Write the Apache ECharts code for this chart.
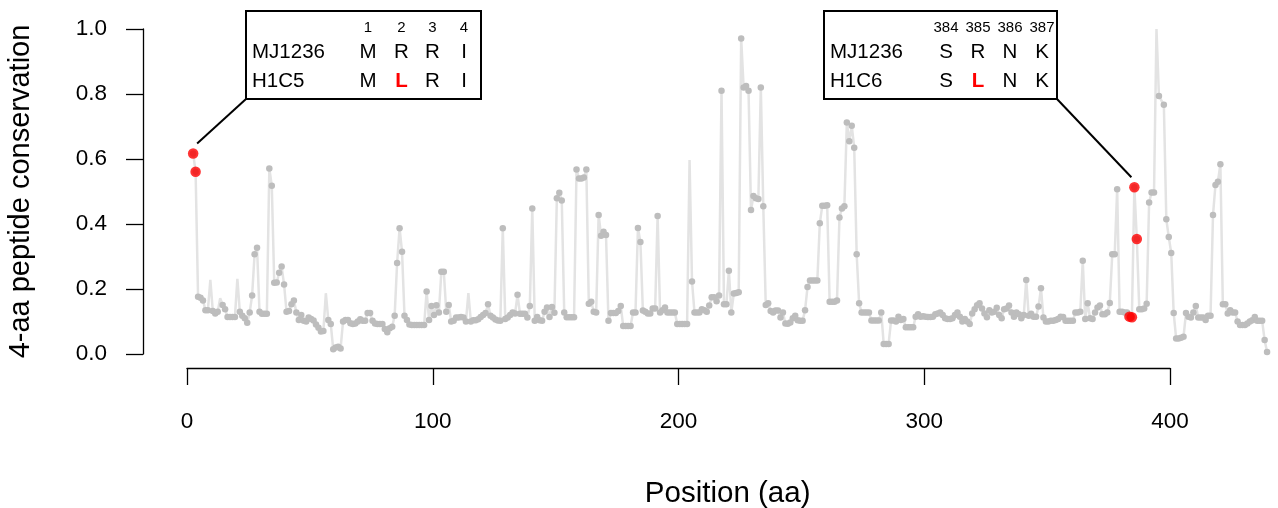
<!DOCTYPE html>
<html>
<head>
<meta charset="utf-8">
<script src="https://cdn.jsdelivr.net/npm/echarts@6/dist/echarts.min.js"></script>
<style>
  html, body { margin: 0; padding: 0; background: #ffffff; }
  #chart { width: 1278px; height: 508px; }
</style>
</head>
<body>
<div id="chart"></div>
<script>
// 4-aa peptide conservation, one value per window start (1..438)
const conservation = [
  0.617, 0.561, 0.176, 0.173, 0.165, 0.135, 0.135, 0.228, 0.132, 0.125,
  0.130, 0.172, 0.151, 0.138, 0.114, 0.114, 0.114, 0.114, 0.231, 0.130,
  0.118, 0.110, 0.096, 0.128, 0.180, 0.307, 0.327, 0.130, 0.124, 0.124,
  0.124, 0.571, 0.518, 0.219, 0.220, 0.250, 0.269, 0.214, 0.130, 0.132,
  0.153, 0.165, 0.128, 0.105, 0.120, 0.102, 0.100, 0.112, 0.108, 0.103,
  0.091, 0.081, 0.069, 0.071, 0.187, 0.105, 0.092, 0.015, 0.020, 0.022,
  0.017, 0.100, 0.105, 0.105, 0.095, 0.092, 0.094, 0.100, 0.107, 0.102,
  0.102, 0.126, 0.126, 0.102, 0.094, 0.092, 0.092, 0.092, 0.077, 0.067,
  0.079, 0.084, 0.118, 0.280, 0.387, 0.315, 0.118, 0.105, 0.091, 0.089,
  0.089, 0.089, 0.089, 0.089, 0.089, 0.192, 0.105, 0.148, 0.120, 0.150,
  0.128, 0.253, 0.253, 0.130, 0.151, 0.100, 0.102, 0.112, 0.112, 0.114,
  0.112, 0.100, 0.187, 0.100, 0.104, 0.104, 0.107, 0.114, 0.120, 0.126,
  0.153, 0.118, 0.112, 0.106, 0.103, 0.102, 0.387, 0.108, 0.112, 0.120,
  0.128, 0.125, 0.182, 0.124, 0.124, 0.124, 0.112, 0.148, 0.448, 0.102,
  0.114, 0.104, 0.102, 0.130, 0.143, 0.114, 0.145, 0.127, 0.479, 0.496,
  0.472, 0.128, 0.113, 0.113, 0.113, 0.113, 0.568, 0.540, 0.540, 0.543,
  0.568, 0.155, 0.161, 0.130, 0.128, 0.428, 0.364, 0.376, 0.366, 0.102,
  0.126, 0.126, 0.126, 0.132, 0.148, 0.086, 0.086, 0.086, 0.086, 0.128,
  0.128, 0.388, 0.345, 0.134, 0.130, 0.125, 0.125, 0.140, 0.140, 0.425,
  0.128, 0.135, 0.143, 0.128, 0.128, 0.128, 0.128, 0.092, 0.092, 0.092,
  0.092, 0.092, 0.597, 0.223, 0.128, 0.128, 0.128, 0.138, 0.135, 0.130,
  0.149, 0.175, 0.175, 0.162, 0.180, 0.810, 0.153, 0.153, 0.256, 0.128,
  0.186, 0.188, 0.190, 0.971, 0.820, 0.825, 0.810, 0.443, 0.486, 0.479,
  0.477, 0.820, 0.455, 0.151, 0.156, 0.132, 0.128, 0.134, 0.134, 0.112,
  0.128, 0.094, 0.093, 0.097, 0.110, 0.118, 0.104, 0.102, 0.102, 0.135,
  0.206, 0.226, 0.226, 0.226, 0.226, 0.402, 0.456, 0.456, 0.458, 0.161,
  0.161, 0.161, 0.165, 0.420, 0.448, 0.455, 0.712, 0.655, 0.702, 0.635,
  0.307, 0.156, 0.128, 0.128, 0.128, 0.128, 0.103, 0.103, 0.103, 0.103,
  0.128, 0.031, 0.031, 0.031, 0.103, 0.103, 0.100, 0.115, 0.105, 0.108,
  0.082, 0.082, 0.082, 0.082, 0.115, 0.122, 0.115, 0.116, 0.115, 0.114,
  0.114, 0.115, 0.122, 0.125, 0.128, 0.120, 0.110, 0.108, 0.108, 0.110,
  0.120, 0.128, 0.115, 0.100, 0.108, 0.100, 0.092, 0.125, 0.138, 0.150,
  0.156, 0.140, 0.125, 0.113, 0.135, 0.128, 0.130, 0.142, 0.120, 0.110,
  0.138, 0.140, 0.149, 0.128, 0.115, 0.128, 0.122, 0.110, 0.120, 0.228,
  0.118, 0.124, 0.115, 0.115, 0.146, 0.202, 0.112, 0.100, 0.100, 0.102,
  0.102, 0.105, 0.108, 0.115, 0.114, 0.102, 0.102, 0.102, 0.102, 0.128,
  0.128, 0.130, 0.287, 0.108, 0.156, 0.110, 0.108, 0.128, 0.143, 0.149,
  0.122, 0.122, 0.128, 0.157, 0.307, 0.307, 0.507, 0.130, 0.130, 0.128,
  0.128, 0.115, 0.113, 0.513, 0.354, 0.138, 0.138, 0.140, 0.155, 0.466,
  0.497, 0.497, 1.000, 0.794, 0.780, 0.767, 0.415, 0.360, 0.311, 0.126,
  0.048, 0.048, 0.050, 0.053, 0.126, 0.115, 0.112, 0.128, 0.148, 0.112,
  0.112, 0.112, 0.105, 0.118, 0.118, 0.428, 0.520, 0.530, 0.584, 0.153,
  0.153, 0.125, 0.135, 0.128, 0.128, 0.100, 0.089, 0.089, 0.089, 0.094,
  0.100, 0.104, 0.114, 0.102, 0.102, 0.102, 0.043, 0.006
];

// window starts whose value is traced by the line only (no dot drawn)
const lineOnlyStarts = [8, 12, 19, 55, 113, 203, 393, 395];

// windows overlapping the R->L substitutions (residue 2 and residue 385)
const mutantStarts = [1, 2, 382, 383, 384, 385];

// a window starting at residue s is plotted at its centre, s + 1.5
const windowHalfSpan = 1.5;

// alignment insets
const leftPositions = ['1', '2', '3', '4'];
const leftRefSeq = ['M', 'R', 'R', 'I'];
const leftAltSeq = ['M', 'L', 'R', 'I'];
const leftNames = ['MJ1236', 'H1C5'];

const rightPositions = ['384', '385', '386', '387'];
const rightRefSeq = ['S', 'R', 'N', 'K'];
const rightAltSeq = ['S', 'L', 'N', 'K'];
const rightNames = ['MJ1236', 'H1C6'];

const FONT = "'Liberation Sans', Arial, Helvetica, sans-serif";

const lineData = conservation.map((v, i) => {
  const start = i + 1;
  const item = { value: [start + windowHalfSpan, v] };
  if (lineOnlyStarts.includes(start)) item.symbol = 'none';
  return item;
});
const mutantData = mutantStarts.map(s => [s + windowHalfSpan, conservation[s - 1]]);

const chart = echarts.init(document.getElementById('chart'), null, { renderer: 'canvas' });

chart.setOption({
  animation: false,
  backgroundColor: '#ffffff',
  textStyle: { fontFamily: FONT },
  grid: [
    { left: 187, top: 29, width: 1081.3, height: 325, containLabel: false, outerBoundsMode: 'none' },
    { left: 187, top: 29, width: 983, height: 325, containLabel: false, outerBoundsMode: 'none' }
  ],
  xAxis: [
    {
      gridIndex: 0, type: 'value', min: 0, max: 440,
      axisLine: { show: false, onZero: false }, axisTick: { show: false },
      axisLabel: { show: false }, splitLine: { show: false },
      name: 'Position (aa)', nameLocation: 'middle', nameGap: 125,
      nameTextStyle: { fontFamily: FONT, fontSize: 29.5, color: '#000' }
    },
    {
      gridIndex: 1, type: 'value', min: 0, max: 400, interval: 100,
      position: 'bottom', offset: 14,
      axisLine: { show: true, onZero: false, lineStyle: { color: '#000', width: 1.3 } },
      axisTick: { show: true, length: 17, lineStyle: { color: '#000', width: 1.3 } },
      axisLabel: { margin: 42, fontFamily: FONT, fontSize: 22.5, color: '#000' },
      splitLine: { show: false }
    }
  ],
  yAxis: [
    {
      gridIndex: 0, type: 'value', min: 0, max: 1, interval: 0.2,
      position: 'left', offset: 44,
      axisLine: { show: true, onZero: false, lineStyle: { color: '#000', width: 1.3 } },
      axisTick: { show: true, length: 17, lineStyle: { color: '#000', width: 1.3 } },
      axisLabel: { margin: 36, fontFamily: FONT, fontSize: 22.5, color: '#000',
        formatter: v => v.toFixed(1) },
      splitLine: { show: false },
      name: '4-aa peptide conservation', nameLocation: 'middle', nameGap: 108,
      nameRotate: 90,
      nameTextStyle: { fontFamily: FONT, fontSize: 29, color: '#000' }
    },
    { gridIndex: 1, type: 'value', min: 0, max: 1, show: false }
  ],
  series: [
    {
      type: 'line', xAxisIndex: 0, yAxisIndex: 0,
      data: lineData,
      showSymbol: true, showAllSymbol: true,
      symbol: 'circle', symbolSize: 6.5,
      itemStyle: { color: '#bdbdbd' },
      lineStyle: { color: '#e3e3e3', width: 2.5 },
      emphasis: { disabled: true },
      z: 2
    },
    {
      type: 'scatter', xAxisIndex: 0, yAxisIndex: 0,
      data: mutantData,
      symbol: 'circle', symbolSize: 10.5,
      itemStyle: { color: '#ff0000' },
      emphasis: { disabled: true },
      z: 5
    }
  ]
});

// alignment inset: a framed table of residues with the substitution in red
function insetBox(box, names, positions, refSeq, altSeq, colX) {
  const children = [{
    type: 'rect',
    shape: { x: box.x, y: box.y, width: box.w, height: box.h },
    style: { fill: '#ffffff', stroke: '#000000', lineWidth: 2 }
  }];
  const rowY = [box.y + 16.5, box.y + 41, box.y + 70];
  names.forEach((n, r) => children.push({
    type: 'text', x: box.x + 6, y: rowY[r + 1],
    style: { text: n, font: '20.5px ' + FONT, fill: '#000',
      align: 'left', verticalAlign: 'middle', textAlign: 'left', textVerticalAlign: 'middle' }
  }));
  positions.forEach((p, c) => {
    children.push({
      type: 'text', x: colX[c], y: rowY[0],
      style: { text: p, font: '15px ' + FONT, fill: '#000',
        align: 'center', verticalAlign: 'middle', textAlign: 'center', textVerticalAlign: 'middle' }
    });
    children.push({
      type: 'text', x: colX[c], y: rowY[1],
      style: { text: refSeq[c], font: '20.5px ' + FONT, fill: '#000',
        align: 'center', verticalAlign: 'middle', textAlign: 'center', textVerticalAlign: 'middle' }
    });
    const changed = altSeq[c] !== refSeq[c];
    children.push({
      type: 'text', x: colX[c], y: rowY[2],
      style: { text: altSeq[c], font: (changed ? 'bold ' : '') + '20.5px ' + FONT,
        fill: changed ? '#ff0000' : '#000',
        align: 'center', verticalAlign: 'middle', textAlign: 'center', textVerticalAlign: 'middle' }
    });
  });
  return children;
}

const leftBox = { x: 246, y: 11, w: 235, h: 88 };
const rightBox = { x: 824, y: 11, w: 233, h: 88 };

// leader lines run from a box corner to just above the first mutant window of each site
const leftAnchor = chart.convertToPixel({ gridIndex: 0 }, mutantData[0]);
const rightAnchor = chart.convertToPixel({ gridIndex: 0 }, mutantData[4]);

chart.setOption({
  graphic: [
    {
      type: 'line', z: 10,
      shape: { x1: leftBox.x, y1: leftBox.y + leftBox.h, x2: leftAnchor[0] + 4, y2: leftAnchor[1] - 10 },
      style: { stroke: '#000', lineWidth: 2 }
    },
    {
      type: 'line', z: 10,
      shape: { x1: rightBox.x + rightBox.w, y1: rightBox.y + rightBox.h, x2: rightAnchor[0] - 3, y2: rightAnchor[1] - 10 },
      style: { stroke: '#000', lineWidth: 2 }
    },
    { type: 'group', z: 11, children: insetBox(leftBox, leftNames, leftPositions, leftRefSeq, leftAltSeq, [368, 401.5, 432.5, 464]) },
    { type: 'group', z: 11, children: insetBox(rightBox, rightNames, rightPositions, rightRefSeq, rightAltSeq, [946, 978, 1010, 1042]) }
  ]
});
</script>
</body>
</html>
